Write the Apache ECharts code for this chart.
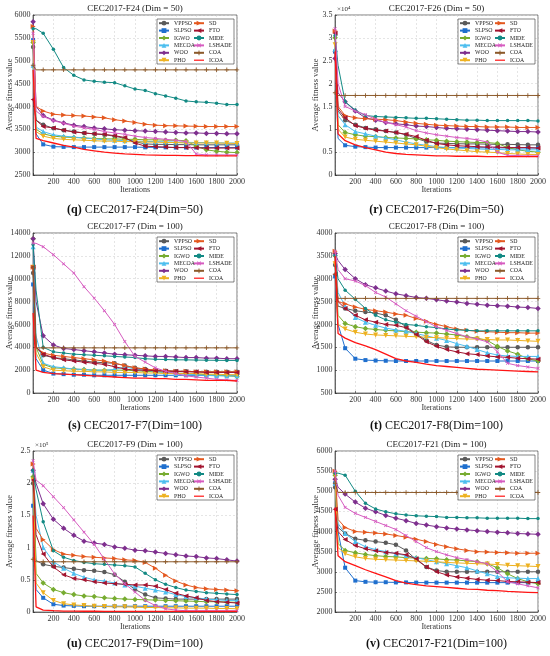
<!DOCTYPE html>
<html>
<head>
<meta charset="utf-8">
<script src="https://cdn.jsdelivr.net/npm/echarts@6.0.0/dist/echarts.min.js"></script>
<style>
  html, body { margin: 0; padding: 0; background: #fff; }
  #chart { width: 550px; height: 656px; }
</style>
</head>
<body>
<div id="chart"></div>
<script>
// iterations at which values are read (markers only on 1 and every 100)
const its = [1, 30, 100, 200, 300, 400, 500, 600, 700, 800, 900, 1000,
  1100, 1200, 1300, 1400, 1500, 1600, 1700, 1800, 1900, 2000];

const algos = ['VPPSO', 'SLPSO', 'IGWO', 'MECOA', 'WOO', 'PHO',
  'SD', 'FTO', 'MIDE', 'LSHADE', 'COA', 'ICOA'];

// rows follow algos order
const f24 = [
  [5300, 3700, 3600, 3520, 3480, 3450, 3420, 3400, 3380, 3350, 3300, 3230, 3180, 3170, 3170, 3165, 3165, 3160, 3160, 3160, 3160, 3160],
  [5450, 3400, 3170, 3120, 3115, 3110, 3110, 3110, 3110, 3110, 3110, 3110, 3105, 3105, 3105, 3100, 3100, 3100, 3100, 3100, 3100, 3100],
  [5400, 3500, 3400, 3350, 3330, 3320, 3310, 3300, 3290, 3290, 3280, 3280, 3270, 3270, 3260, 3260, 3250, 3130, 3050, 3020, 3000, 2990],
  [4900, 3550, 3450, 3380, 3350, 3330, 3310, 3290, 3270, 3260, 3250, 3240, 3235, 3230, 3225, 3220, 3215, 3210, 3210, 3205, 3200, 3200],
  [5850, 4000, 3800, 3700, 3640, 3590, 3560, 3530, 3510, 3490, 3480, 3470, 3460, 3450, 3440, 3430, 3420, 3420, 3410, 3410, 3400, 3400],
  [5400, 3450, 3350, 3300, 3280, 3270, 3260, 3250, 3240, 3240, 3230, 3230, 3220, 3220, 3210, 3210, 3200, 3200, 3200, 3200, 3195, 3190],
  [5750, 4000, 3900, 3830, 3810, 3800, 3790, 3770, 3750, 3710, 3680, 3650, 3610, 3590, 3580, 3575, 3570, 3565, 3560, 3560, 3560, 3560],
  [4150, 3700, 3560, 3530, 3480, 3440, 3420, 3400, 3390, 3360, 3320, 3200, 3130, 3120, 3110, 3100, 3100, 3095, 3090, 3090, 3090, 3090],
  [5700, 5700, 5600, 5250, 4850, 4680, 4580, 4550, 4530, 4520, 4450, 4380, 4350, 4280, 4230, 4180, 4120, 4100, 4090, 4070, 4040, 4040],
  [5600, 3900, 3780, 3690, 3630, 3570, 3530, 3500, 3450, 3420, 3390, 3350, 3320, 3300, 3280, 3260, 3230, 2960, 2940, 2940, 2940, 2940],
  [4900, 4800, 4800, 4800, 4800, 4800, 4800, 4800, 4800, 4800, 4800, 4800, 4800, 4800, 4800, 4800, 4800, 4800, 4800, 4800, 4800, 4800],
  [4800, 3300, 3250, 3200, 3150, 3110, 3060, 3030, 3000, 2980, 2960, 2950, 2940, 2935, 2930, 2930, 2925, 2925, 2920, 2920, 2920, 2920]
];

const f26 = [
  [27000, 14000, 12000, 11000, 10300, 10000, 9600, 9300, 8800, 8000, 7300, 7000, 6900, 6850, 6800, 6800, 6750, 6700, 6700, 6650, 6600, 6600],
  [27000, 8000, 6500, 6200, 6100, 6000, 6000, 6000, 6000, 6000, 6000, 6000, 6000, 6000, 5950, 5950, 5950, 5950, 5900, 5900, 5900, 5900],
  [30000, 11000, 9300, 8800, 8500, 8400, 8200, 8100, 8000, 7900, 7700, 7600, 7400, 7300, 7200, 7100, 7100, 6900, 6000, 5500, 5200, 5000],
  [27500, 13000, 11000, 9500, 9000, 8500, 8100, 7700, 7200, 6800, 6500, 6200, 6000, 5900, 5800, 5700, 5600, 5600, 5500, 5500, 5500, 5500],
  [25500, 18000, 16000, 14000, 12500, 12000, 11500, 11200, 11000, 10700, 10600, 10400, 10200, 10100, 10000, 9900, 9800, 9700, 9600, 9500, 9500, 9400],
  [28500, 10000, 8300, 7800, 7600, 7400, 7200, 7000, 6800, 6600, 6300, 6000, 5700, 5500, 5300, 5100, 5000, 4900, 4700, 4600, 4500, 4500],
  [31500, 15000, 13000, 12500, 12300, 12200, 12100, 11900, 11600, 11300, 11100, 10900, 10800, 10700, 10600, 10600, 10500, 10500, 10500, 10400, 10400, 10400],
  [31000, 14500, 12500, 10800, 10200, 9800, 9600, 9300, 8900, 8400, 7600, 6900, 6600, 6400, 6300, 6200, 6100, 6100, 6000, 6000, 6000, 5900],
  [30500, 24000, 16000, 14200, 13000, 12800, 12700, 12600, 12500, 12400, 12400, 12300, 12200, 12100, 12000, 12000, 11900, 11900, 11900, 11900, 11900, 11800],
  [32000, 20000, 15000, 14000, 13200, 12200, 11500, 11000, 10500, 9700, 9200, 8800, 8500, 8200, 8000, 7700, 7200, 5000, 4300, 4250, 4200, 4200],
  [18000, 17400, 17400, 17400, 17400, 17400, 17400, 17400, 17400, 17400, 17400, 17400, 17400, 17400, 17400, 17400, 17400, 17400, 17400, 17400, 17400, 17400],
  [27000, 9000, 7500, 6600, 6000, 5500, 5000, 4700, 4500, 4400, 4300, 4200, 4200, 4100, 4100, 4100, 4000, 4000, 4000, 4000, 4000, 4000]
];

const f7 = [
  [10500, 4000, 3300, 3100, 3000, 2900, 2800, 2700, 2650, 2600, 2400, 2200, 2100, 2000, 1950, 1900, 1900, 1850, 1850, 1850, 1850, 1850],
  [9500, 3000, 2000, 1700, 1650, 1600, 1600, 1550, 1550, 1550, 1550, 1550, 1550, 1550, 1550, 1550, 1550, 1550, 1550, 1550, 1550, 1550],
  [13500, 4000, 2500, 2200, 2150, 2100, 2050, 2000, 2000, 2000, 2000, 1950, 1900, 1850, 1800, 1750, 1700, 1650, 1600, 1550, 1500, 1450],
  [12800, 5000, 2600, 2300, 2200, 2100, 2050, 2000, 2000, 2050, 2300, 2100, 2000, 1900, 1800, 1700, 1650, 1600, 1550, 1500, 1500, 1500],
  [13500, 8000, 5000, 4200, 3900, 3800, 3700, 3600, 3500, 3400, 3350, 3300, 3250, 3200, 3200, 3150, 3100, 3100, 3050, 3050, 3000, 3000],
  [11000, 3500, 2300, 2000, 1950, 1900, 1900, 1850, 1850, 1800, 1800, 1800, 1750, 1750, 1700, 1700, 1700, 1700, 1650, 1650, 1600, 1600],
  [11000, 4000, 3500, 3300, 3200, 3100, 3000, 2900, 2800, 2600, 2400, 2200, 2100, 2000, 1950, 1900, 1900, 1850, 1850, 1850, 1850, 1850],
  [11000, 4000, 3400, 3100, 2900, 2800, 2700, 2600, 2500, 2300, 2100, 2000, 2000, 1950, 1900, 1900, 1850, 1850, 1800, 1800, 1800, 1800],
  [13000, 9000, 4000, 3600, 3500, 3400, 3350, 3300, 3250, 3200, 3150, 3100, 3000, 2950, 2930, 2900, 2900, 2880, 2870, 2860, 2850, 2850],
  [13100, 13100, 12800, 12100, 11300, 10500, 9300, 8300, 7200, 6000, 4500, 3200, 2700, 2200, 1900, 1700, 1500, 1400, 1300, 1200, 1150, 1100],
  [11000, 3950, 3950, 3950, 3950, 3950, 3950, 3950, 3950, 3950, 3950, 3950, 3950, 3950, 3950, 3950, 3950, 3950, 3950, 3950, 3950, 3950],
  [7000, 2000, 1800, 1700, 1650, 1600, 1550, 1500, 1450, 1400, 1350, 1300, 1300, 1250, 1250, 1200, 1200, 1150, 1100, 1100, 1100, 1050]
];

const f8 = [
  [3300, 2400, 2350, 2300, 2270, 2250, 2200, 2100, 1950, 1800, 1650, 1550, 1510, 1500, 1500, 1500, 1500, 1500, 1500, 1500, 1500, 1500],
  [3050, 2000, 1480, 1250, 1220, 1210, 1205, 1200, 1200, 1200, 1200, 1200, 1200, 1200, 1200, 1200, 1200, 1200, 1200, 1200, 1200, 1200],
  [3500, 2200, 2020, 1950, 1910, 1890, 1870, 1860, 1840, 1830, 1820, 1810, 1790, 1770, 1730, 1700, 1650, 1520, 1420, 1350, 1250, 1200],
  [3550, 2700, 2400, 2150, 2050, 1980, 1920, 1880, 1850, 1800, 1750, 1700, 1650, 1580, 1520, 1450, 1380, 1330, 1310, 1300, 1300, 1300],
  [3550, 3400, 3200, 3000, 2870, 2800, 2730, 2670, 2630, 2590, 2570, 2540, 2510, 2490, 2460, 2440, 2420, 2410, 2400, 2380, 2370, 2350],
  [3330, 2000, 1900, 1830, 1790, 1770, 1760, 1750, 1740, 1730, 1720, 1710, 1700, 1690, 1680, 1680, 1670, 1660, 1660, 1650, 1640, 1630],
  [3600, 2500, 2450, 2380, 2330, 2300, 2270, 2230, 2200, 2130, 2070, 2000, 1950, 1900, 1870, 1850, 1840, 1830, 1820, 1820, 1810, 1810],
  [3100, 2500, 2350, 2200, 2100, 2050, 2000, 1980, 1930, 1780, 1620, 1520, 1450, 1400, 1360, 1340, 1310, 1290, 1280, 1260, 1250, 1240],
  [3500, 3000, 2750, 2550, 2350, 2200, 2100, 2050, 2000, 1980, 1950, 1930, 1900, 1880, 1870, 1860, 1860, 1860, 1860, 1860, 1860, 1860],
  [3600, 3200, 3000, 2950, 2850, 2700, 2600, 2450, 2300, 2180, 2060, 1950, 1870, 1800, 1730, 1680, 1620, 1400, 1150, 1100, 1070, 1040],
  [3100, 2570, 2570, 2570, 2570, 2570, 2570, 2570, 2570, 2570, 2570, 2570, 2570, 2570, 2570, 2570, 2570, 2570, 2570, 2570, 2570, 2570],
  [3500, 1800, 1700, 1600, 1530, 1450, 1350, 1250, 1200, 1170, 1130, 1100, 1080, 1060, 1040, 1020, 1010, 1000, 990, 980, 970, 960]
];

const f9 = [
  [200000, 80000, 74000, 71000, 69000, 67000, 65000, 64000, 62000, 58000, 47000, 35000, 27000, 22000, 21000, 20000, 20000, 20000, 20000, 20000, 20000, 20000],
  [165000, 35000, 22000, 12000, 10000, 9500, 9000, 9000, 9000, 9000, 9000, 9000, 9000, 9000, 9000, 9000, 9000, 9000, 9000, 9000, 9000, 9000],
  [210000, 60000, 45000, 35000, 30000, 27000, 25000, 24000, 22000, 21000, 20000, 19500, 19000, 18500, 18000, 17500, 17000, 16500, 16000, 16000, 15500, 15000],
  [220000, 150000, 100000, 78000, 68000, 60000, 54000, 50000, 48000, 45000, 42000, 40000, 37000, 34000, 31000, 27000, 24000, 22000, 20000, 19000, 18000, 18000],
  [220000, 200000, 168000, 144000, 130000, 119000, 110000, 107000, 105000, 101000, 99000, 96000, 95000, 93000, 91000, 89000, 87000, 86000, 84000, 83000, 81000, 79000],
  [205000, 45000, 30000, 18000, 13000, 11000, 10000, 9000, 8500, 8000, 8000, 7500, 7000, 7000, 6500, 6500, 6000, 6000, 6000, 5500, 5500, 5000],
  [230000, 130000, 112000, 97000, 90000, 88000, 86000, 85000, 84000, 83000, 81000, 80000, 77000, 68000, 57000, 48000, 42000, 38000, 36000, 35000, 34000, 33000],
  [205000, 120000, 90000, 70000, 58000, 52000, 50000, 47000, 45000, 44000, 43000, 42000, 42000, 40000, 35000, 29000, 25000, 22000, 18000, 16000, 15000, 14000],
  [220000, 190000, 140000, 95000, 85000, 80000, 77000, 75000, 74000, 73000, 72000, 70000, 60000, 50000, 43000, 38000, 34000, 32000, 30000, 29000, 28000, 27000],
  [235000, 205000, 196000, 179000, 162000, 143000, 124000, 105000, 82000, 59000, 44000, 31000, 18000, 10000, 5000, 3000, 2000, 2000, 2000, 2000, 2000, 2000],
  [82000, 78000, 78000, 78000, 78000, 78000, 78000, 78000, 78000, 78000, 78000, 78000, 78000, 78000, 78000, 78000, 78000, 78000, 78000, 78000, 78000, 78000],
  [150000, 8000, 3000, 2000, 1500, 1500, 1200, 1200, 1000, 1000, 1000, 1000, 1000, 1000, 1000, 1000, 1000, 1000, 1000, 1000, 1000, 1000]
];

const f21 = [
  [5100, 4100, 3950, 3820, 3780, 3750, 3720, 3670, 3530, 3300, 3120, 3030, 3000, 3000, 3000, 3000, 3000, 3000, 3000, 3000, 3000, 3000],
  [5200, 4000, 3100, 2780, 2750, 2740, 2740, 2735, 2735, 2730, 2730, 2730, 2730, 2730, 2730, 2730, 2730, 2730, 2730, 2730, 2730, 2730],
  [5400, 3700, 3530, 3470, 3430, 3400, 3380, 3370, 3350, 3340, 3330, 3320, 3300, 3290, 3270, 3250, 3200, 3100, 2950, 2830, 2750, 2700],
  [5200, 4200, 3950, 3750, 3620, 3550, 3500, 3450, 3400, 3350, 3300, 3250, 3200, 3150, 3100, 3020, 2950, 2880, 2850, 2840, 2830, 2830],
  [5300, 5100, 4930, 4730, 4580, 4490, 4400, 4330, 4270, 4200, 4160, 4120, 4090, 4060, 4040, 4020, 4000, 3980, 3970, 3950, 3940, 3930],
  [5400, 3600, 3450, 3370, 3330, 3310, 3300, 3290, 3280, 3270, 3260, 3250, 3230, 3220, 3210, 3200, 3190, 3180, 3160, 3150, 3140, 3130],
  [5500, 4300, 4100, 4000, 3980, 3960, 3940, 3900, 3860, 3810, 3750, 3680, 3620, 3570, 3530, 3500, 3490, 3480, 3470, 3460, 3460, 3460],
  [4550, 4000, 3800, 3650, 3570, 3520, 3480, 3460, 3420, 3320, 3120, 3000, 2920, 2870, 2840, 2810, 2790, 2780, 2760, 2750, 2740, 2730],
  [5450, 5450, 5400, 5000, 4700, 4560, 4490, 4440, 4410, 4390, 4380, 4370, 4350, 4350, 4340, 4340, 4330, 4330, 4330, 4330, 4320, 4320],
  [5500, 4900, 4600, 4450, 4350, 4250, 4150, 4050, 3900, 3750, 3600, 3500, 3420, 3350, 3300, 3250, 3200, 3000, 2750, 2700, 2650, 2600],
  [5200, 4970, 4970, 4970, 4970, 4970, 4970, 4970, 4970, 4970, 4970, 4970, 4970, 4970, 4970, 4970, 4970, 4970, 4970, 4970, 4970, 4970],
  [4600, 3400, 3250, 3150, 3050, 2960, 2870, 2780, 2720, 2680, 2650, 2630, 2610, 2590, 2570, 2560, 2540, 2530, 2510, 2500, 2490, 2480]
];

const panels = [
  { title: 'CEC2017-F24 (Dim = 50)', tag: '(q)', caption: 'CEC2017-F24(Dim=50)', data: f24, min: 2500, max: 6000, step: 500 },
  { title: 'CEC2017-F26 (Dim = 50)', tag: '(r)', caption: 'CEC2017-F26(Dim=50)', data: f26, min: 0, max: 35000, step: 5000, scale: 1e4, exp: '×10⁴' },
  { title: 'CEC2017-F7 (Dim = 100)', tag: '(s)', caption: 'CEC2017-F7(Dim=100)', data: f7, min: 0, max: 14000, step: 2000 },
  { title: 'CEC2017-F8 (Dim = 100)', tag: '(t)', caption: 'CEC2017-F8(Dim=100)', data: f8, min: 500, max: 4000, step: 500 },
  { title: 'CEC2017-F9 (Dim = 100)', tag: '(u)', caption: 'CEC2017-F9(Dim=100)', data: f9, min: 0, max: 250000, step: 50000, scale: 1e5, exp: '×10⁵' },
  { title: 'CEC2017-F21 (Dim = 100)', tag: '(v)', caption: 'CEC2017-F21(Dim=100)', data: f21, min: 2000, max: 6000, step: 500 }
];

// layout of the six plot boxes (px)
const boxes = [
  { left: 33, top: 15, width: 204, height: 160, capY: 210 },
  { left: 335, top: 15, width: 203, height: 160, capY: 210 },
  { left: 33, top: 233, width: 204, height: 160, capY: 426 },
  { left: 335, top: 233, width: 203, height: 160, capY: 426 },
  { left: 33, top: 451, width: 204, height: 161, capY: 644 },
  { left: 335, top: 451, width: 203, height: 161, capY: 644 }
];

const plus = 'path://M4,0H6V4H10V6H6V10H4V6H0V4H4Z';
const bar = 'path://M0,0H20V2.4H0Z';
const looks = {
  VPPSO: { color: '#5a5a5a', symbol: 'circle', size: 4.5 },
  SLPSO: { color: '#1f6fce', symbol: 'rect', size: 4 },
  IGWO: { color: '#77ac30', symbol: 'diamond', size: 5.5 },
  MECOA: { color: '#4dbeee', symbol: 'triangle', size: 5 },
  WOO: { color: '#7e2f8e', symbol: 'diamond', size: 5.5 },
  PHO: { color: '#edb120', symbol: 'triangle', size: 5, rotate: 180 },
  SD: { color: '#e4581f', symbol: 'triangle', size: 5, rotate: -90 },
  FTO: { color: '#a2142f', symbol: 'triangle', size: 5, rotate: 90 },
  MIDE: { color: '#138a84', symbol: 'circle', size: 3.5 },
  LSHADE: { color: '#d65cc0', symbol: plus, size: 4, rotate: 45 },
  COA: { color: '#8c5a2b', symbol: plus, size: 4.5 },
  ICOA: { color: '#ff1414', symbol: 'none', size: 0 }
};

const serif = 'Liberation Serif';
const grid = [], xAxis = [], yAxis = [], series = [], legend = [], graphic = [];

panels.forEach((p, i) => {
  const b = boxes[i];
  const isLeft = i % 2 === 0;
  grid.push({ left: b.left, top: b.top, width: b.width, height: b.height,
    show: true, borderColor: '#262626', borderWidth: 0.6, backgroundColor: '#fff' });
  xAxis.push({
    type: 'value', gridIndex: i, min: 0, max: 2000, interval: 200,
    name: 'Iterations', nameLocation: 'middle', nameGap: 11, nameMoveOverlap: false,
    nameTextStyle: { fontFamily: serif, fontSize: 8, color: '#333' },
    axisLine: { lineStyle: { color: '#262626', width: 0.6 } },
    axisTick: { inside: true, length: 2, lineStyle: { color: '#262626', width: 0.6 } },
    axisLabel: { fontFamily: serif, fontSize: 8, color: '#333', margin: 3,
      formatter: v => (v === 0 ? '' : v) },
    splitLine: { lineStyle: { color: '#d4d4d4', type: [2, 2], width: 0.6 } }
  });
  yAxis.push({
    type: 'value', gridIndex: i, min: p.min, max: p.max, interval: p.step,
    name: 'Average fitness value', nameLocation: 'middle', nameGap: isLeft ? 19 : 15,
    nameMoveOverlap: false,
    nameTextStyle: { fontFamily: serif, fontSize: 8.5, color: '#333' },
    axisLine: { show: true, lineStyle: { color: '#262626', width: 0.6 } },
    axisTick: { show: true, inside: true, length: 2, lineStyle: { color: '#262626', width: 0.6 } },
    axisLabel: { fontFamily: serif, fontSize: 8, color: '#333', margin: 2.5,
      formatter: v => (p.scale ? String(+(v / p.scale).toFixed(2)) : v) },
    splitLine: { lineStyle: { color: '#d4d4d4', type: [2, 2], width: 0.6 } }
  });

  algos.forEach((name, k) => {
    const lk = looks[name];
    series.push({
      type: 'line', name, xAxisIndex: i, yAxisIndex: i,
      data: its.map((x, j) => (x === 30
        ? { value: [x, p.data[k][j]], symbol: 'none' }
        : [x, p.data[k][j]])),
      symbol: lk.symbol, symbolSize: lk.size, symbolRotate: lk.rotate || 0,
      showSymbol: true, showAllSymbol: true,
      itemStyle: { color: lk.color },
      lineStyle: { color: lk.color, width: name === 'ICOA' ? 1.3 : 1 },
      emphasis: { disabled: true },
      z: 2 + k * 0.01
    });
  });

  // legend box and its two columns
  const bx = b.left + b.width - 3 - 77, by = b.top + 4;
  graphic.push({ type: 'rect', z: 3, silent: true,
    shape: { x: bx, y: by, width: 77, height: 45 },
    style: { fill: '#fff', stroke: '#333', lineWidth: 0.6 } });
  [algos.slice(0, 6), algos.slice(6)].forEach((col, c) => {
    legend.push({
      data: col.map(n => (looks[n].symbol === 'none' ? { name: n, icon: bar } : n)),
      orient: 'vertical', left: bx + (c === 0 ? 1 : 36), top: by + 0.5,
      itemWidth: 10, itemHeight: 6, itemGap: 0, padding: 0, z: 5,
      selectedMode: false,
      textStyle: { fontFamily: serif, fontSize: 5.8, lineHeight: 7.4, color: '#222' }
    });
  });

  const cx = b.left + b.width / 2;
  graphic.push({ type: 'text', silent: true, x: cx, y: b.top - 2,
    style: { text: p.title, font: '9px "Liberation Serif"', fill: '#222', align: 'center', verticalAlign: 'bottom' } });
  graphic.push({ type: 'text', silent: true, x: cx, y: b.capY,
    style: { text: '{t|' + p.tag + '} ' + p.caption, font: '12px "Liberation Serif"', fill: '#111',
      align: 'center', verticalAlign: 'middle',
      rich: { t: { fontWeight: 'bold', fontFamily: serif, fontSize: 12 } } } });
  if (p.exp) {
    graphic.push({ type: 'text', silent: true, x: b.left + 2, y: b.top - 2,
      style: { text: p.exp, font: '7px "Liberation Serif"', fill: '#333', align: 'left', verticalAlign: 'bottom' } });
  }
});

const chart = echarts.init(document.getElementById('chart'));
chart.setOption({
  animation: false,
  backgroundColor: '#fff',
  textStyle: { fontFamily: serif },
  grid, xAxis, yAxis, series, legend, graphic
});
</script>
</body>
</html>
